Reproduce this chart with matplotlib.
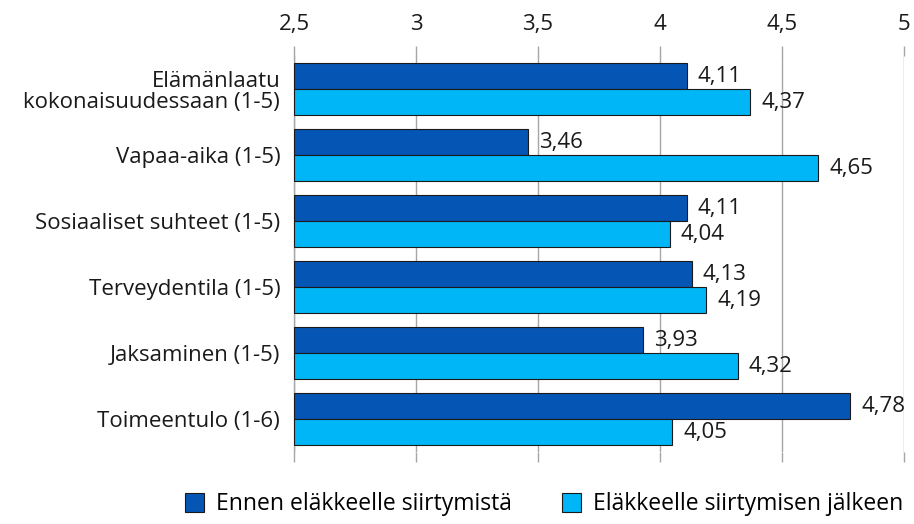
import numpy as np
import matplotlib.pyplot as plt

plt.rcParams['font.family'] = ['Open Sans', 'DejaVu Sans']

categories = ['Elämänlaatu\nkokonaisuudessaan (1-5)', 'Vapaa-aika (1-5)',
              'Sosiaaliset suhteet (1-5)', 'Terveydentila (1-5)',
              'Jaksaminen (1-5)', 'Toimeentulo (1-6)']
before = [4.11, 3.46, 4.11, 4.13, 3.93, 4.78]
after = [4.37, 4.65, 4.04, 4.19, 4.32, 4.05]
series_names = ['Ennen eläkkeelle siirtymistä', 'Eläkkeelle siirtymisen jälkeen']
xticks = [2.5, 3, 3.5, 4, 4.5, 5]
xtick_labels = ['2,5', '3', '3,5', '4', '4,5', '5']

dark = '#0455B4'
light = '#00B6F6'
grid_color = '#a6a6a6'
fs = 16

fig = plt.figure(figsize=(9.14, 5.24), dpi=100)
ax = fig.add_axes([0.3217, 0.137, 0.667, 0.756])

y = np.arange(len(categories))
h = 0.395
b1 = ax.barh(y - h / 2, [v - 2.5 for v in before], left=2.5, height=h,
             color=dark, edgecolor='#1a1a1a', linewidth=0.8, label=series_names[0], zorder=3)
b2 = ax.barh(y + h / 2, [v - 2.5 for v in after], left=2.5, height=h,
             color=light, edgecolor='#1a1a1a', linewidth=0.8, label=series_names[1], zorder=3)

for bars, vals in ((b1, before), (b2, after)):
    for rect, v in zip(bars, vals):
        ax.annotate(f'{v:.2f}'.replace('.', ','), (v, rect.get_y() + rect.get_height() / 2),
                    xytext=(8, 0), textcoords='offset points', va='center', ha='left',
                    fontsize=fs, color='#1a1a1a', annotation_clip=False)

ax.set_xlim(2.5, 5)
ax.set_ylim(len(categories) - 0.5, -0.5)
ax.set_yticks(y)
ax.set_yticklabels(categories, fontsize=fs, color='#1a1a1a', linespacing=1.0)
ax.set_xticks(xticks)
ax.set_xticklabels(xtick_labels, fontsize=fs, color='#1a1a1a')
ax.xaxis.tick_top()
ax.tick_params(axis='x', top=True, bottom=True, length=7, width=1, color=grid_color,
               direction='out', pad=8)
ax.tick_params(axis='y', length=0, pad=10)
ax.grid(axis='x', color=grid_color, linewidth=1, zorder=0)
for s in ['top', 'right', 'bottom']:
    ax.spines[s].set_visible(False)
ax.spines['left'].set_color(grid_color)
ax.spines['left'].set_linewidth(1)

fig.legend(handles=[b1, b2], labels=series_names, loc='lower center',
           bbox_to_anchor=(0.595, -0.025), ncol=2, frameon=False, fontsize=16.5,
           handlelength=0.85, handleheight=0.9, columnspacing=2.2, handletextpad=0.5)

fig.savefig('out.png', dpi=100)
